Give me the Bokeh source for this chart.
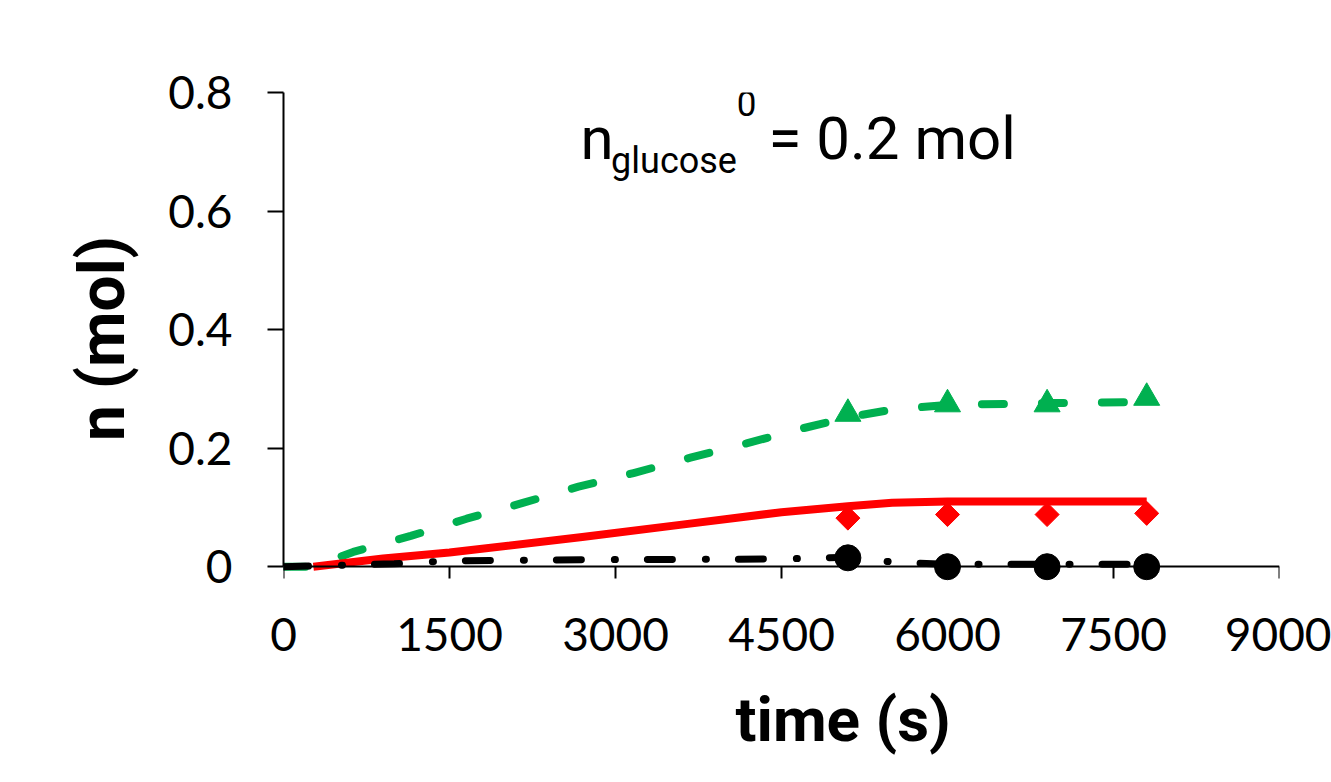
import math
from bokeh.plotting import figure
from bokeh.models import FixedTicker, Label, Range1d, LinearAxis, Title
from bokeh.embed import file_html
from bokeh.resources import INLINE

# ---- data ----
sample_time = [5100, 6000, 6900, 7800]
marker_green = [0.258, 0.274, 0.274, 0.285]
marker_red = [0.082, 0.088, 0.088, 0.090]
marker_black = [0.015, 0.0, 0.0, 0.0]

green_t = [0, 270, 630, 1150, 1655, 2170, 2666, 3163, 3677, 4184, 4681, 5100, 5500, 6000, 6900, 7800]
green_n = [0, 0, 0.025, 0.052, 0.081, 0.108, 0.135, 0.158, 0.184, 0.208, 0.233, 0.252, 0.265, 0.273, 0.276, 0.278]

red_t = [270, 900, 1500, 2700, 3600, 4500, 5100, 5500, 6000, 6900, 7800]
red_n = [0, 0.014, 0.024, 0.050, 0.071, 0.092, 0.102, 0.108, 0.110, 0.110, 0.110]

black_t = [0, 1000, 1500, 3000, 4500, 5100, 5500, 6000, 6900, 7800]
black_n = [0, 0.005, 0.010, 0.012, 0.013, 0.016, 0.008, 0.004, 0.004, 0.004]

x_ticks = [0, 1500, 3000, 4500, 6000, 7500, 9000]
y_ticks = [0, 0.2, 0.4, 0.6, 0.8]
y_tick_labels = ["0", "0.2", "0.4", "0.6", "0.8"]

GREEN = "#00B050"
RED = "#FF0000"
BLACK = "#000000"

p = figure(width=1331, height=782, output_backend="svg", toolbar_location=None,
           x_range=Range1d(0, 9000), y_range=Range1d(-0.03, 0.8),
           min_border_left=283, min_border_right=52, min_border_top=92,
           min_border_bottom=197)
p.outline_line_color = None
p.xgrid.visible = False
p.ygrid.visible = False
p.background_fill_color = "white"
p.border_fill_color = "white"

# x axis labels (panel below the frame), line/ticks hidden
xa = p.xaxis[0]
xa.ticker = FixedTicker(ticks=x_ticks)
xa.axis_line_color = None
xa.major_tick_line_color = None
xa.minor_tick_line_color = None
xa.major_tick_in = 0
xa.major_tick_out = 0
xa.major_label_text_font = "Lato"
xa.major_label_text_font_size = "46px"
xa.major_label_text_color = "black"
xa.major_label_standoff = 33

# x axis line and ticks drawn at n = 0
x0 = LinearAxis(fixed_location=0, ticker=FixedTicker(ticks=x_ticks))
x0.minor_tick_line_color = None
x0.major_tick_in = 0
x0.major_tick_out = 12
x0.axis_line_width = 2
x0.major_tick_line_width = 2
x0.major_label_text_font_size = "0px"
x0.major_label_text_color = None
x0.major_label_standoff = 0
p.add_layout(x0, "below")

# x axis title, shifted right as in the reference
p.add_layout(Title(text="time (s)", align="left", offset=452, standoff=54,
                   text_font="Roboto", text_font_style="bold",
                   text_font_size="62px", text_color="black"), "below")

ya = p.yaxis[0]
ya.bounds = (0, 0.8)
ya.ticker = FixedTicker(ticks=y_ticks)
ya.major_label_overrides = {t: s for t, s in zip(y_ticks, y_tick_labels)}
ya.minor_tick_line_color = None
ya.major_tick_in = 0
ya.major_tick_out = 16
ya.axis_line_width = 2
ya.major_tick_line_width = 2
ya.major_label_text_font = "Lato"
ya.major_label_text_font_size = "46px"
ya.major_label_text_color = "black"
ya.major_label_standoff = 35
ya.axis_label = "n (mol)"
ya.axis_label_text_font = "Roboto"
ya.axis_label_text_font_style = "bold"
ya.axis_label_text_font_size = "64px"
ya.axis_label_text_color = "black"
ya.axis_label_standoff = 25

# lines
p.line(green_t, green_n, line_color=GREEN, line_width=8, line_dash="22 38",
       line_cap="round", line_join="round")
p.line(red_t, red_n, line_color=RED, line_width=8, line_join="round")
p.line(black_t, black_n, line_color=BLACK, line_width=7, line_dash="25 33 1 32",
       line_cap="round", line_join="round")

# markers
p.scatter(sample_time, marker_green, marker="triangle", size=26,
          fill_color=GREEN, line_color=GREEN)
p.scatter(sample_time, marker_red, marker="square", angle=math.pi / 4, size=17,
          fill_color=RED, line_color=RED)
p.scatter(sample_time, marker_black, marker="circle", size=26,
          fill_color=BLACK, line_color=BLACK)

# annotation n_glucose^0 = 0.2 mol
p.add_layout(Label(x=2684, y=0.722, text="n", text_font="Roboto",
                   text_font_size="60px", text_align="left",
                   text_baseline="alphabetic", text_color="black"))
p.add_layout(Label(x=2960, y=0.685, text="glucose", text_font="Roboto",
                   text_font_size="36px", text_align="left",
                   text_baseline="alphabetic", text_color="black"))
p.add_layout(Label(x=4095, y=0.782, text="0", text_font="Roboto",
                   text_font_size="35px", text_align="left",
                   text_baseline="alphabetic", text_color="black"))
p.add_layout(Label(x=4382, y=0.722, text="= 0.2 mol", text_font="Roboto",
                   text_font_size="60px", text_align="left",
                   text_baseline="alphabetic", text_color="black"))

open("out.html", "w").write(file_html(p, INLINE))
